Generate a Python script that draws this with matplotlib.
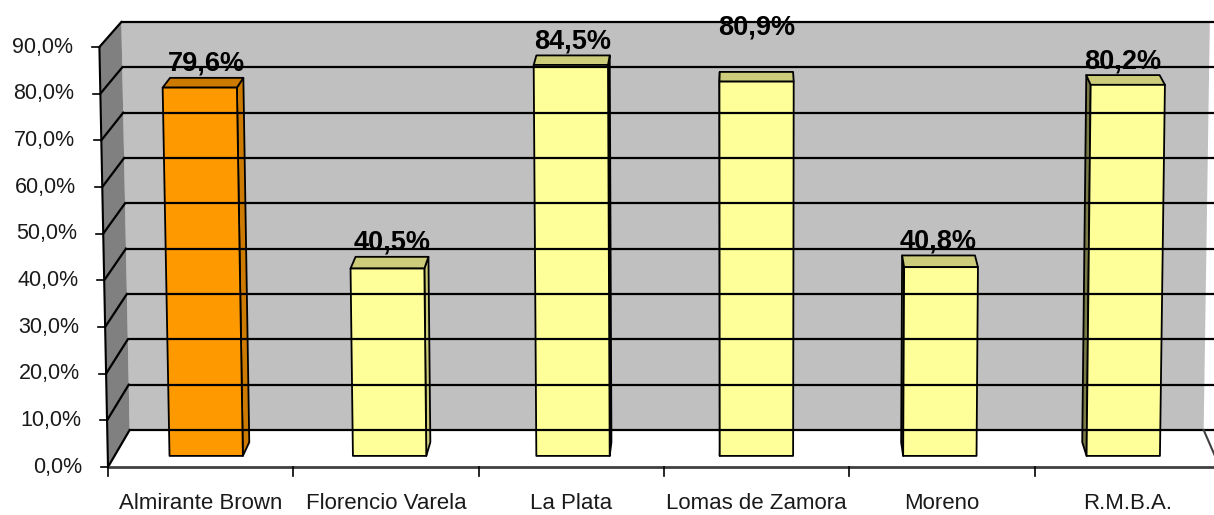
import matplotlib
matplotlib.use("Agg")
import matplotlib.pyplot as plt
from matplotlib.patches import Polygon

# data
categories = ["Almirante Brown", "Florencio Varela", "La Plata",
              "Lomas de Zamora", "Moreno", "R.M.B.A."]
values = [79.6, 40.5, 84.5, 80.9, 40.8, 80.2]
value_labels = ["79,6%", "40,5%", "84,5%", "80,9%", "40,8%", "80,2%"]
ytick_values = [0, 10, 20, 30, 40, 50, 60, 70, 80, 90]
ytick_labels = ["0,0%", "10,0%", "20,0%", "30,0%", "40,0%",
                "50,0%", "60,0%", "70,0%", "80,0%", "90,0%"]
highlight = "Almirante Brown"

# layout of the excel-like 3d view (pixels)
W, H = 1214, 515
X0, CW = 108, 185.3          # front floor left edge, category width
CX = 745                     # horizontal vanishing centre
Y0F, Y0B = 467, 430          # zero line front / back
SF, SB = 420 / 90, 408 / 90  # px per percent front / back
HB = 0.966                   # horizontal shrink at back wall
VK = 0.00015                 # horizontal spread per percent of height
D1, D2 = 0.30, 0.67          # bar depth
BW = 0.4                     # bar width (category units)
label_lift = [0, 0, 0, 30, 0, 0]


def proj(u, v, d):
    xf = X0 + CW * u
    h = 1 - (1 - HB) * d
    x = CX + (xf - CX) * h * (1 + VK * v)
    y = (Y0F + (Y0B - Y0F) * d) - (SF + (SB - SF) * d) * v
    return x, y


fig = plt.figure(figsize=(W / 100, H / 100), dpi=100)
ax = fig.add_axes([0, 0, 1, 1])
ax.set_xlim(0, W)
ax.set_ylim(H, 0)
ax.axis("off")

n = len(categories)
vmax = ytick_values[-1]

# walls and floor
back = [proj(0, 0, 1), proj(n, 0, 1), proj(n, vmax, 1), proj(0, vmax, 1)]
left = [proj(0, 0, 0), proj(0, 0, 1), proj(0, vmax, 1), proj(0, vmax, 0)]
floor = [proj(0, 0, 0), proj(n, 0, 0), proj(n, 0, 1), proj(0, 0, 1)]
ax.add_patch(Polygon(back, closed=True, fc="#c0c0c0", ec="none"))
ax.add_patch(Polygon(left, closed=True, fc="#808080", ec="none"))
ax.add_patch(Polygon(floor, closed=True, fc="white", ec="none"))

# gridlines on back and left walls
for v in ytick_values:
    (xa, ya), (xb, yb) = proj(0, v, 1), proj(n, v, 1)
    ax.plot([xa, xb + 10], [ya, yb], color="black", lw=1.6, solid_capstyle="butt")
    (xc, yc) = proj(0, v, 0)
    ax.plot([xc, xa], [yc, ya], color="black", lw=1.6)

# floor edges
(xa, ya), (xb, yb) = proj(0, 0, 0), proj(n, 0, 0)
ax.plot([xa, xb], [ya, yb], color="#404040", lw=2)
(xc, yc) = proj(n, 0, 1)
ax.plot([xb, xc], [yb, yc], color="#404040", lw=1.5)

# y axis
(xa, ya), (xb, yb) = proj(0, 0, 0), proj(0, vmax, 0)
ax.plot([xa, xb], [ya, yb], color="black", lw=1.5)
for v, lab in zip(ytick_values, ytick_labels):
    x, y = proj(0, v, 0)
    ax.plot([x - 7, x], [y, y], color="black", lw=1.2)
    ax.text(x - 26, y, lab, ha="right", va="center", fontsize=15.5,
            family="Liberation Sans", color="#1a1a1a")

# category ticks and labels
for i in range(n + 1):
    x, y = proj(i, 0, 0)
    ax.plot([x, x], [y, y + 9], color="black", lw=1.2)
for i, cat in enumerate(categories):
    x, y = proj(i + 0.5, 0, 0)
    ax.text(x, 509, cat, ha="center", va="baseline", fontsize=16,
            family="Liberation Sans", color="#1a1a1a")

# bars
for i, (cat, val) in enumerate(zip(categories, values)):
    if cat == highlight:
        front_c, top_c, rside_c, lside_c = "#ff9900", "#cc7a00", "#cc7a00", "#995c00"
    else:
        front_c, top_c, rside_c, lside_c = "#ffff99", "#cccc7a", "#cccc7a", "#7a7a46"
    u0, u1 = i + 0.5 - BW / 2, i + 0.5 + BW / 2
    front = [proj(u0, 0, D1), proj(u1, 0, D1), proj(u1, val, D1), proj(u0, val, D1)]
    top = [proj(u0, val, D1), proj(u1, val, D1), proj(u1, val, D2), proj(u0, val, D2)]
    if proj(i + 0.5, 0, D1)[0] < CX:
        side = [proj(u1, 0, D1), proj(u1, 0, D2), proj(u1, val, D2), proj(u1, val, D1)]
        side_c = rside_c
    else:
        side = [proj(u0, 0, D1), proj(u0, 0, D2), proj(u0, val, D2), proj(u0, val, D1)]
        side_c = lside_c
    for poly, c in ((side, side_c), (top, top_c), (front, front_c)):
        ax.add_patch(Polygon(poly, closed=True, fc=c, ec="black", lw=1.3,
                             joinstyle="round"))

    x, y = proj(i + 0.5, val, D2)
    ax.text(x, y - 7 - label_lift[i], value_labels[i], ha="center",
            va="baseline", fontsize=19.5, fontweight="bold",
            family="Liberation Sans", color="black")

fig.savefig("out.png", dpi=100)
